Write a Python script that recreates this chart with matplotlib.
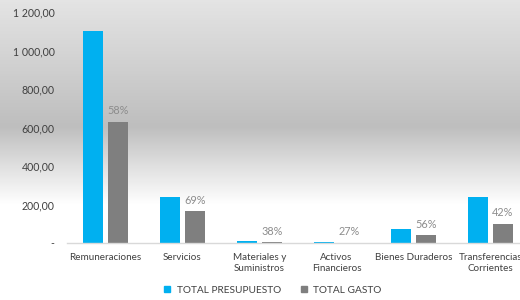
from matplotlib import pyplot as plt
from matplotlib.patches import Patch
from matplotlib.colors import LinearSegmentedColormap
import numpy as np

plt.rcParams["font.family"] = ["Lato", "DejaVu Sans"]

categories = ["Remuneraciones", "Servicios", "Materiales y\nSuministros",
              "Activos\nFinancieros", "Bienes Duraderos", "Transferencias\nCorrientes"]
presupuesto = [1101, 239, 10, 5, 71, 238]
gasto = [630, 164, 4, 1.4, 40, 100]
porcentajes = ["58%", "69%", "38%", "27%", "56%", "42%"]

blue = "#00b0f0"
gray = "#7f7f7f"

fig = plt.figure(figsize=(5.2, 3.0), dpi=100)

# background gradient (light grey -> darker grey -> white)
bg = fig.add_axes([0, 0, 1, 1], zorder=-1)
grad_cmap = LinearSegmentedColormap.from_list(
    "bg", [(0.0, "#e4e4e4"), (0.42, "#bebebe"), (0.68, "#ffffff"), (1.0, "#ffffff")])
bg.imshow(np.linspace(0, 1, 300).reshape(-1, 1), aspect="auto", cmap=grad_cmap,
          extent=[0, 1, 0, 1], origin="upper")
bg.axis("off")

ax = fig.add_axes([67 / 520, 57 / 300, 462 / 520, 231 / 300])
ax.set_facecolor("none")

x = np.arange(len(categories))
w = 0.26
off = 0.162
ax.bar(x - off, presupuesto, w, color=blue, label="TOTAL PRESUPUESTO")
bars = ax.bar(x + off, gasto, w, color=gray, label="TOTAL GASTO")

for b, p in zip(bars, porcentajes):
    ax.annotate(p, (b.get_x() + b.get_width() / 2, b.get_height()),
                xytext=(0, 4), textcoords="offset points",
                ha="center", va="bottom", fontsize=7.8, color="#8c8c8c")

ax.set_xlim(-0.5, len(categories) - 0.5)
ax.set_ylim(0, 1200)
ax.set_yticks(range(0, 1201, 200))


def fmt(v):
    if v == 0:
        return "-"
    return f"{v:,.2f}".replace(",", " ").replace(".", ",")


ax.set_yticklabels([fmt(v) for v in range(0, 1201, 200)])
ax.set_xticks(x)
ax.set_xticklabels(categories, linespacing=1.3)
ax.tick_params(axis="both", length=0, colors="#404040")
ax.tick_params(axis="y", pad=9, labelsize=7.6)
ax.tick_params(axis="x", pad=7, labelsize=7.1)

for s in ["top", "right", "left"]:
    ax.spines[s].set_visible(False)
ax.spines["bottom"].set_color("#d9d9d9")
ax.spines["bottom"].set_linewidth(1)

handles = [Patch(color=blue, label="TOTAL PRESUPUESTO"),
           Patch(color=gray, label="TOTAL GASTO")]
fig.legend(handles=handles, loc="center", bbox_to_anchor=(0.525, 0.033), ncol=2,
           frameon=False, fontsize=7.3, handlelength=0.6, handleheight=0.6,
           handletextpad=0.6, columnspacing=2.0, labelcolor="#404040")

fig.savefig("out.png", dpi=100)
